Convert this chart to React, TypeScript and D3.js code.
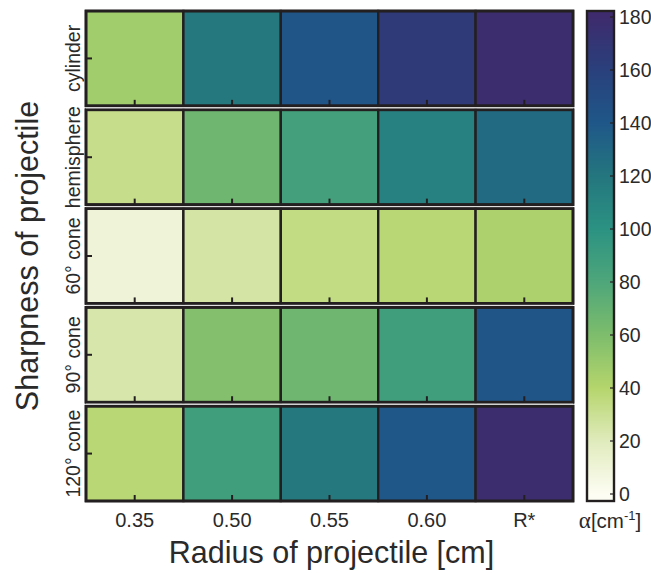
import * as React from "react";
import * as d3 from "d3";

const radii = ["0.35", "0.50", "0.55", "0.60", "R*"];
const shapes = ["cylinder", "hemisphere", "60° cone", "90° cone", "120° cone"];

// alpha values per shape (rows) across radii (columns)
const cylinder = [47, 118, 142, 165, 178];
const hemisphere = [32, 66, 86, 112, 128];
const cone60 = [10, 26, 34, 38, 43];
const cone90 = [24, 58, 66, 88, 142];
const cone120 = [38, 88, 118, 140, 178];
const alphaRows = [cylinder, hemisphere, cone60, cone90, cone120];

const cbarTicks = [0, 20, 40, 60, 80, 100, 120, 140, 160, 180];
const cmapStops = [0, 20, 40, 60, 80, 100, 120, 140, 160, 180];
const cmapColors = [
  "#fdfdf3", "#e0ebbc", "#b5d56c", "#7dbd6c", "#4ea67a",
  "#2b9282", "#24767e", "#1f5789", "#29407c", "#3e2b6d",
];

const ink = "#231f20";
const textInk = "#2a2a2a";
const font = "'Liberation Sans', Arial, Helvetica, sans-serif";

export default function App() {
  const width = 651;
  const height = 573;
  const left = 86, right = 573, top = 11, bottom = 501;

  const x = d3.scaleBand().domain(radii).range([left, right]);
  const y = d3.scaleBand().domain(shapes).range([top, bottom]).paddingInner(0.04);
  const color = d3.scaleLinear<string>().domain(cmapStops).range(cmapColors).interpolate(d3.interpolateRgb);

  const cbX = 587, cbW = 27, cbTop = 11, cbBottom = 501;
  const cb = d3.scaleLinear().domain([0, 180]).range([494, 17]);
  const cbSteps = d3.range(cbTop, cbBottom, 1);

  return (
    <svg width={width} height={height} style={{ position: "absolute", left: 0, top: 0 }}>
      <rect width={width} height={height} fill="#fff" />
      {shapes.map((s, i) => {
        const ry = y(s)!;
        const rh = y.bandwidth();
        return (
          <g key={s}>
            {radii.map((r, j) => (
              <rect key={r} x={x(r)!} y={ry} width={x.bandwidth()} height={rh}
                fill={color(alphaRows[i][j])} stroke={ink} strokeWidth={2.4} />
            ))}
            <rect x={left} y={ry} width={right - left} height={rh} fill="none" stroke={ink} strokeWidth={2.8} />
            <line x1={left} x2={left + 6} y1={ry + rh / 2} y2={ry + rh / 2} stroke={ink} strokeWidth={2} />
            {radii.map((r) => (
              <line key={"t" + r} x1={x(r)! + x.bandwidth() / 2} x2={x(r)! + x.bandwidth() / 2}
                y1={ry + rh} y2={ry + rh - 6} stroke={ink} strokeWidth={2} />
            ))}
            {i > 0 && (
              <line x1={left} x2={right} y1={ry - (y.step() - rh) / 2} y2={ry - (y.step() - rh) / 2}
                stroke="#d9d9d9" strokeWidth={1} />
            )}
            <text transform={`translate(80,${ry + rh / 2}) rotate(-90)`} textAnchor="middle"
              fontFamily={font} fontSize={19.5} fill={textInk}>{s}</text>
          </g>
        );
      })}
      {radii.map((r) => (
        <text key={"l" + r} x={x(r)! + x.bandwidth() / 2} y={527} textAnchor="middle"
          fontFamily={font} fontSize={20} fill={textInk}>{r}</text>
      ))}
      <text x={(left + right) / 2 + 2} y={563} textAnchor="middle" fontFamily={font} fontSize={30.5} fill={textInk}>
        Radius of projectile [cm]
      </text>
      <text transform={`translate(38,${(top + bottom) / 2}) rotate(-90)`} textAnchor="middle"
        fontFamily={font} fontSize={30.5} fill={textInk}>Sharpness of projectile</text>

      {/* colorbar */}
      {cbSteps.map((py) => (
        <rect key={"c" + py} x={cbX} y={py} width={cbW} height={1.5}
          fill={color(Math.max(0, Math.min(180, cb.invert(py + 0.5))))} />
      ))}
      <rect x={cbX} y={cbTop} width={cbW} height={cbBottom - cbTop} fill="none" stroke={ink} strokeWidth={2.4} />
      {cbarTicks.map((t) => (
        <g key={"cb" + t}>
          <line x1={cbX + cbW} x2={cbX + cbW - 4} y1={cb(t)} y2={cb(t)} stroke={ink} strokeWidth={1.2} />
          <text x={619} y={cb(t)} dy="0.36em" fontFamily={font} fontSize={19.5} fill={textInk}>{t}</text>
        </g>
      ))}
      <text x={610} y={528} textAnchor="middle" fontFamily={font} fontSize={20.5} fill={textInk}>
        <tspan fontFamily="'Liberation Serif', serif" fontSize={23}>α</tspan>
        <tspan>[cm</tspan>
        <tspan fontSize={13} dy={-8}>-1</tspan>
        <tspan dy={8}>]</tspan>
      </text>
    </svg>
  );
}
